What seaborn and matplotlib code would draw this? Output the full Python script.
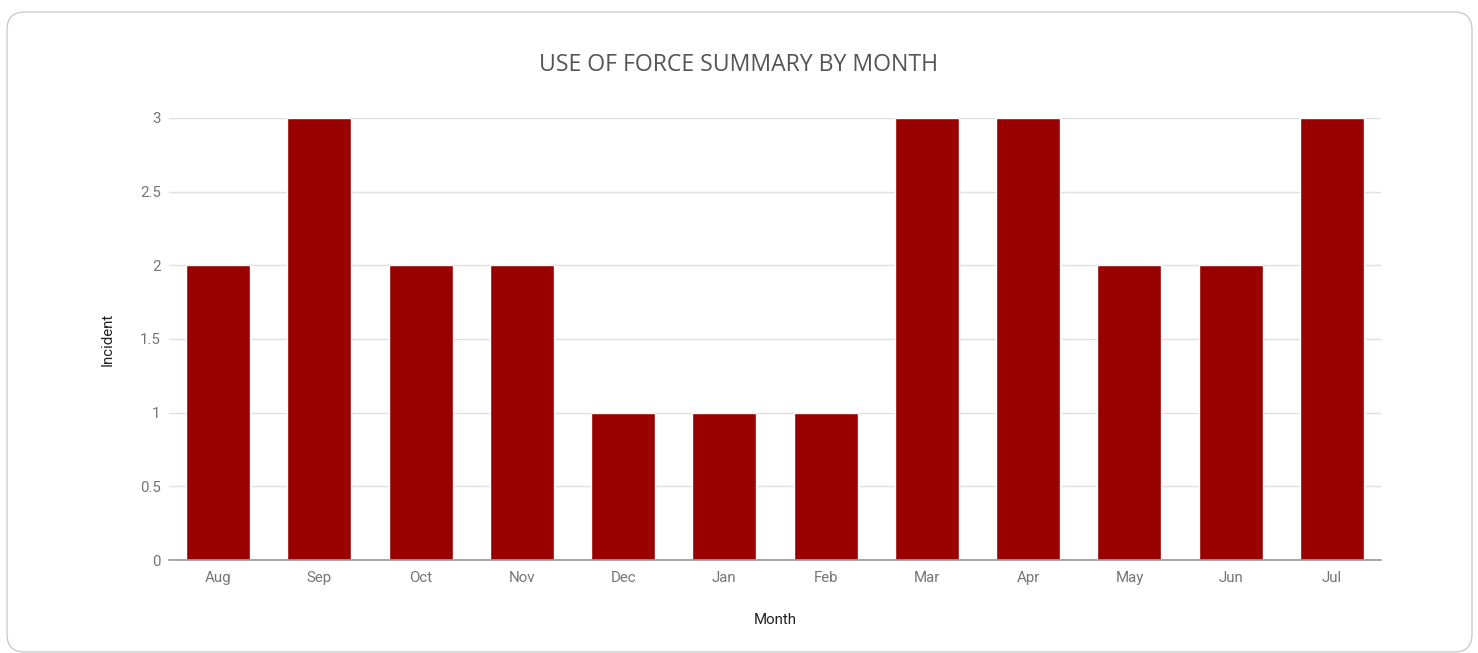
import matplotlib
matplotlib.use("Agg")
import matplotlib.pyplot as plt
from matplotlib.patches import FancyBboxPatch
import seaborn as sns
import pandas as pd

months = ["Aug", "Sep", "Oct", "Nov", "Dec", "Jan", "Feb", "Mar", "Apr", "May", "Jun", "Jul"]
incidents = [2, 3, 2, 2, 1, 1, 1, 3, 3, 2, 2, 3]
y_ticks = [0, 0.5, 1, 1.5, 2, 2.5, 3]
y_tick_labels = ["0", "0.5", "1", "1.5", "2", "2.5", "3"]

sns.set_theme(style="white")
plt.rcParams['font.family'] = ['Roboto', 'DejaVu Sans']

W, H = 1478, 653
fig = plt.figure(figsize=(W / 100, H / 100), dpi=100)
fig.patch.set_facecolor("white")

# card
card = FancyBboxPatch((7 / W, 1 - 652 / H), (1472 - 7) / W, (652 - 12) / H,
                      boxstyle="round,pad=0,rounding_size=0.012",
                      transform=fig.transFigure, facecolor="white",
                      edgecolor="#cccccc", linewidth=1.0, mutation_aspect=W / H,
                      zorder=-10)
fig.patches.append(card)

ax = fig.add_axes([169 / W, 1 - 560 / H, (1381 - 169) / W, (560 - 118) / H])
ax.set_facecolor("none")
ax.set_zorder(5)

df = pd.DataFrame({"Month": months, "Incident": incidents})
sns.barplot(data=df, x="Month", y="Incident", color="#990000", saturation=1,
            width=0.632, ax=ax, zorder=3)

ax.set_ylim(0, 3)
ax.set_xlim(-0.484, len(months) - 1 + 0.484)
ax.set_yticks(y_ticks)
ax.set_yticklabels(y_tick_labels)
ax.yaxis.grid(True, color="#e0e0e0", linewidth=1, zorder=0)
ax.set_axisbelow(True)
for s in ["top", "right", "left"]:
    ax.spines[s].set_visible(False)
ax.spines["bottom"].set_color("#999999")
ax.spines["bottom"].set_linewidth(1.2)
ax.spines["bottom"].set_zorder(4)
ax.tick_params(axis="both", length=0, labelsize=10.8, labelcolor="#757575")
ax.tick_params(axis="x", pad=8)
ax.tick_params(axis="y", pad=6)
ax.set_xlabel("")
ax.set_ylabel("")

fig.text(775 / W, 1 - 620 / H, "Month", ha="center", va="center",
         fontsize=10.8, color="#222222")
fig.text(108 / W, 1 - 339 / H, "Incident", ha="center", va="center",
         rotation=90, fontsize=10.8, color="#222222")
fig.text(739 / W, 1 - 65 / H, "USE OF FORCE SUMMARY BY MONTH", ha="center",
         va="center", fontsize=16.6, color="#555555",
         family=["Open Sans", "DejaVu Sans"])

fig.savefig("out.png", dpi=100, facecolor="white")
